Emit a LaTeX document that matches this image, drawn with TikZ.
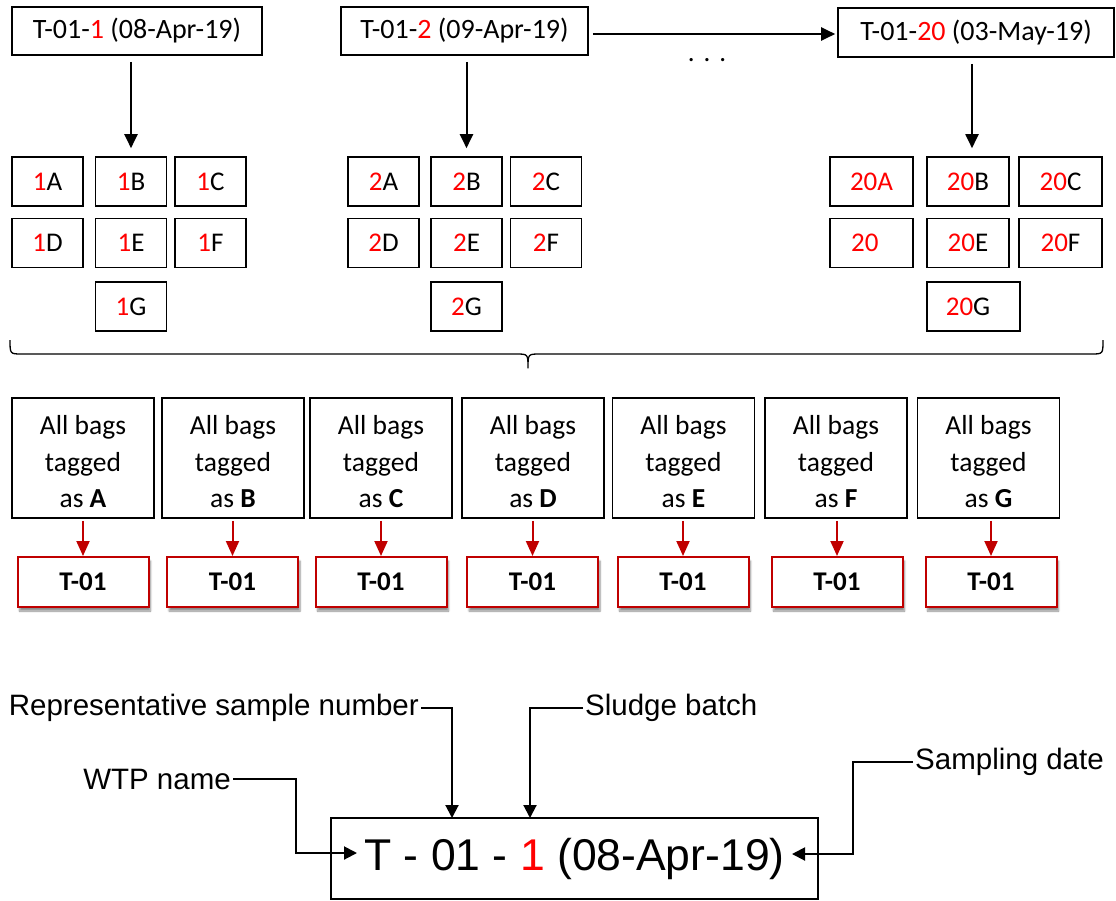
\documentclass[tikz,border=0pt]{standalone}
\usepackage{fontspec}
\setmainfont{Carlito}
\newfontfamily\arialf{Liberation Sans}
\usetikzlibrary{arrows.meta,calc,shadows.blur}
\definecolor{numred}{RGB}{255,0,0}
\definecolor{darkred}{RGB}{192,0,0}
\newcommand{\rn}[1]{\textcolor{numred}{#1}}
\begin{document}
\begin{tikzpicture}[x=1pt,y=-1pt,
  hdr/.style={draw, line width=1.6pt, inner sep=0pt, minimum height=48pt, font=\fontsize{28}{32}\selectfont},
  sbox/.style={draw, line width=1.6pt, minimum width=71pt, minimum height=49pt, inner sep=0pt, font=\fontsize{27}{32}\selectfont},
  bagbox/.style={draw, line width=1.6pt, minimum width=142pt, minimum height=120pt, inner sep=0pt},
  bagtext/.style={inner sep=0pt, align=center, font=\fontsize{27.5}{36.5}\selectfont},
  tagbox/.style={draw=darkred, line width=2pt, fill=white, minimum width=131pt, minimum height=50pt, inner sep=0pt, font=\fontsize{27}{32}\selectfont\bfseries,
    blur shadow={shadow xshift=2pt, shadow yshift=-4pt, shadow blur steps=6, shadow opacity=45}},
  arr/.style={line width=2pt, -{Triangle[width=13pt,length=14pt]}},
  rarr/.style={draw=darkred, line width=2pt, -{Triangle[width=13pt,length=15pt]}, color=darkred},
  lab/.style={inner sep=2pt, font=\arialf\fontsize{29.5}{34}\selectfont},
  larr/.style={line width=2pt, -{Triangle[width=13pt,length=13pt]}}
]
\useasboundingbox (0,0) rectangle (1116,900);

% header boxes
\node[hdr, minimum width=250pt] (t1) at (137,31) {T-01-\rn{1} (08-Apr-19)};
\node[hdr, minimum width=247pt] (t2) at (464.5,31) {T-01-\rn{2} (09-Apr-19)};
\node[hdr, minimum width=276pt, minimum height=49pt] (t20) at (976,32.5) {T-01-\rn{20} (03-May-19)};
\node[font=\fontsize{27}{32}\selectfont, anchor=base, inner sep=0pt] (dots) at (707,61) {.\,\,.\,\,.};

% group 1
\node[sbox] (s1A) at (47.5,181.5) {\rn{1}A};
\node[sbox] (s1B) at (131,181.5) {\rn{1}B};
\node[sbox] (s1C) at (210.5,181.5) {\rn{1}C};
\node[sbox] (s1D) at (47.5,243) {\rn{1}D};
\node[sbox] (s1E) at (131,243) {\rn{1}E};
\node[sbox] (s1F) at (210.5,243) {\rn{1}F};
\node[sbox] (s1G) at (131,306.5) {\rn{1}G};
% group 2
\node[sbox] (s2A) at (383.5,181.5) {\rn{2}A};
\node[sbox] (s2B) at (466.5,181.5) {\rn{2}B};
\node[sbox] (s2C) at (546,181.5) {\rn{2}C};
\node[sbox] (s2D) at (383.5,243) {\rn{2}D};
\node[sbox] (s2E) at (466.5,243) {\rn{2}E};
\node[sbox] (s2F) at (546,243) {\rn{2}F};
\node[sbox] (s2G) at (466.5,306.5) {\rn{2}G};
% group 20
\node[sbox, minimum width=83pt] (s20A) at (871.5,181.5) {\rn{20A}};
\node[sbox, minimum width=82pt] (s20B) at (968,181.5) {\rn{20}B};
\node[sbox, minimum width=83pt] (s20C) at (1060.5,181.5) {\rn{20}C};
\node[sbox, minimum width=83pt] (s20D) at (871.5,243) {};
\node[anchor=west, inner sep=0pt, font=\fontsize{27}{32}\selectfont] (s20Dt) at (851,243) {\rn{20}};
\node[sbox, minimum width=82pt] (s20E) at (968,243) {\rn{20}E};
\node[sbox, minimum width=83pt] (s20F) at (1060.5,243) {\rn{20}F};
\node[sbox, minimum width=93pt] (s20G) at (973.5,306.5) {};
\node[inner sep=0pt, font=\fontsize{27}{32}\selectfont] (s20Gt) at (968,306.5) {\rn{20}G};

% header arrows
\draw[arr] ($(t1.south -| s1B.north)+(0,6)$) -- ($(s1B.north)+(0,-8)$);
\draw[arr] ($(t2.south -| s2B.north)+(0,6)$) -- ($(s2B.north)+(0,-8)$);
\draw[arr] ($(t20.south -| s20B.north)+(4,6)$) -- ($(s20B.north)+(4,-8)$);
\draw[arr] ($(t2.east)+(4,3)$) -- ($(t2.east -| t20.west)+(-2,3)$);

% brace
\draw[line width=1.3pt, line join=round]
  (10,340) .. controls (10,354) .. (22,354) -- (516,354)
  .. controls (528,354) .. (528,368)
  .. controls (528,354) .. (540,354) -- (1091,354)
  .. controls (1103,354) .. (1103,340);

% bag boxes and tags
\foreach \n/\bx/\tx in {A/83/83, B/233/232.5, C/381/381, D/533/532.5, E/683.5/683, F/836/837, G/988.5/991}{
  \node[bagbox] (bag\n) at (\bx,458) {};
  \node[bagtext] (bagt\n) at (\bx,462) {All bags\\tagged\\as \textbf{\n}};
  \node[tagbox] (tag\n) at (\tx,582) {T-01};
  \draw[rarr] ($(bag\n.south -| tag\n.north)+(0,2)$) -- (tag\n.north);
}

% code box
\node[draw, line width=1.6pt, minimum width=487pt, minimum height=81pt, inner sep=0pt,
      font=\arialf\fontsize{44.5}{50}\selectfont] (code) at (574.5,858.5) {T - 01 - \rn{1} (08-Apr-19)};

\node[lab, anchor=east] (rsn) at (421,708) {Representative sample number};
\node[lab, anchor=west] (sludge) at (583,708) {Sludge batch};
\node[lab, anchor=east] (wtp) at (233,779) {WTP name};
\node[lab, anchor=west] (sdate) at (913,762) {Sampling date};

\coordinate (rsnTip) at (452,818);
\coordinate (sludgeTip) at (530,818);
\coordinate (wtpBend) at (296,853);
\coordinate (wtpTip) at (357,853);
\coordinate (sdBend) at (853,854);
\coordinate (sdTip) at (792,854);

\draw[larr] (rsn.east) -| (rsnTip);
\draw[larr] (sludge.west) -| (sludgeTip);
\draw[larr] (wtp.east) -| (wtpBend) -- (wtpTip);
\draw[larr] (sdate.west) -| (sdBend) -- (sdTip);
\end{tikzpicture}
\end{document}
